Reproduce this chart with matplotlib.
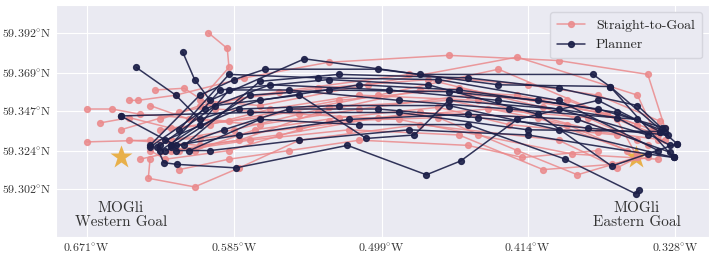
import matplotlib
matplotlib.use('Agg')
import matplotlib.pyplot as plt
import seaborn as sns

sns.set_style('darkgrid')
plt.rcParams['font.family'] = 'serif'
plt.rcParams['font.serif'] = ['cmr10', 'DejaVu Serif']
plt.rcParams['mathtext.fontset'] = 'cm'
plt.rcParams['axes.formatter.use_mathtext'] = True

# trajectories as (lon, lat) pairs
straight_tracks = [
    [(-0.671, 59.329), (-0.634, 59.330), (-0.605, 59.331), (-0.547, 59.337), (-0.477, 59.346), (-0.408, 59.343), (-0.350, 59.322)],
    [(-0.671, 59.348), (-0.656, 59.348), (-0.640, 59.345), (-0.588, 59.341), (-0.524, 59.353), (-0.454, 59.360), (-0.373, 59.346), (-0.338, 59.333)],
    [(-0.663, 59.340), (-0.646, 59.343), (-0.622, 59.337), (-0.570, 59.343), (-0.501, 59.356), (-0.431, 59.371), (-0.362, 59.342), (-0.350, 59.320)],
    [(-0.600, 59.392), (-0.589, 59.383), (-0.588, 59.372), (-0.605, 59.353), (-0.570, 59.350), (-0.507, 59.362), (-0.420, 59.378), (-0.350, 59.356), (-0.338, 59.330)],
    [(-0.646, 59.353), (-0.641, 59.353), (-0.619, 59.356), (-0.579, 59.366), (-0.530, 59.375), (-0.460, 59.379), (-0.396, 59.376), (-0.344, 59.368), (-0.334, 59.337)],
    [(-0.634, 59.319), (-0.635, 59.308), (-0.608, 59.303), (-0.582, 59.314), (-0.547, 59.330), (-0.477, 59.339), (-0.396, 59.330), (-0.362, 59.314), (-0.350, 59.320)],
    [(-0.634, 59.324), (-0.625, 59.319), (-0.588, 59.324), (-0.530, 59.341), (-0.466, 59.343), (-0.420, 59.324), (-0.385, 59.310), (-0.344, 59.322)],
    [(-0.628, 59.336), (-0.599, 59.339), (-0.564, 59.348), (-0.512, 59.356), (-0.443, 59.353), (-0.373, 59.335), (-0.334, 59.330)],
    [(-0.651, 59.336), (-0.617, 59.346), (-0.582, 59.354), (-0.536, 59.360), (-0.472, 59.365), (-0.405, 59.349), (-0.350, 59.330)],
    [(-0.631, 59.359), (-0.614, 59.360), (-0.596, 59.348), (-0.547, 59.345), (-0.489, 59.342), (-0.443, 59.333), (-0.388, 59.322), (-0.338, 59.319)],
    [(-0.622, 59.330), (-0.585, 59.336), (-0.530, 59.349), (-0.460, 59.353), (-0.391, 59.339), (-0.356, 59.324)],
    [(-0.640, 59.319), (-0.617, 59.324), (-0.576, 59.330), (-0.518, 59.336), (-0.454, 59.333), (-0.405, 59.313), (-0.365, 59.316), (-0.344, 59.320)],
    [(-0.628, 59.342), (-0.605, 59.350), (-0.559, 59.358), (-0.483, 59.368), (-0.414, 59.362), (-0.373, 59.356), (-0.337, 59.341)],
    [(-0.617, 59.313), (-0.588, 59.319), (-0.553, 59.324), (-0.512, 59.330), (-0.449, 59.327), (-0.417, 59.320), (-0.373, 59.324)],
    [(-0.608, 59.324), (-0.573, 59.336), (-0.524, 59.343), (-0.466, 59.349), (-0.425, 59.339), (-0.362, 59.333)],
    [(-0.634, 59.350), (-0.611, 59.342), (-0.570, 59.339), (-0.512, 59.348), (-0.449, 59.356), (-0.391, 59.353), (-0.350, 59.339)],
    [(-0.622, 59.324), (-0.582, 59.330), (-0.536, 59.346), (-0.477, 59.359), (-0.420, 59.356), (-0.368, 59.345), (-0.341, 59.336)],
    [(-0.646, 59.330), (-0.605, 59.327), (-0.559, 59.333), (-0.501, 59.343), (-0.437, 59.348), (-0.379, 59.343), (-0.344, 59.327)],
]

planner_tracks = [
    [(-0.642, 59.372), (-0.619, 59.356), (-0.605, 59.342), (-0.570, 59.353), (-0.512, 59.362), (-0.454, 59.359), (-0.373, 59.348), (-0.334, 59.337)],
    [(-0.615, 59.381), (-0.608, 59.365), (-0.599, 59.353), (-0.544, 59.377), (-0.477, 59.368), (-0.376, 59.368), (-0.366, 59.361), (-0.329, 59.320)],
    [(-0.651, 59.344), (-0.619, 59.327), (-0.582, 59.333), (-0.518, 59.342), (-0.449, 59.345), (-0.385, 59.342), (-0.331, 59.323)],
    [(-0.630, 59.326), (-0.626, 59.317), (-0.618, 59.316), (-0.584, 59.314), (-0.519, 59.327), (-0.473, 59.310), (-0.453, 59.318), (-0.420, 59.342), (-0.373, 59.353), (-0.337, 59.335)],
    [(-0.634, 59.327), (-0.605, 59.356), (-0.585, 59.365), (-0.567, 59.371), (-0.501, 59.371), (-0.431, 59.362), (-0.366, 59.361), (-0.327, 59.328)],
    [(-0.628, 59.327), (-0.596, 59.350), (-0.547, 59.356), (-0.508, 59.331), (-0.480, 59.333), (-0.460, 59.353), (-0.396, 59.348), (-0.344, 59.333)],
    [(-0.622, 59.327), (-0.593, 59.359), (-0.530, 59.365), (-0.472, 59.362), (-0.408, 59.345), (-0.365, 59.315), (-0.327, 59.328)],
    [(-0.625, 59.330), (-0.582, 59.348), (-0.524, 59.350), (-0.460, 59.350), (-0.396, 59.336), (-0.329, 59.320)],
    [(-0.617, 59.336), (-0.588, 59.368), (-0.536, 59.366), (-0.466, 59.365), (-0.396, 59.353), (-0.338, 59.324)],
    [(-0.611, 59.324), (-0.570, 59.342), (-0.512, 59.339), (-0.449, 59.339), (-0.392, 59.319), (-0.351, 59.299), (-0.349, 59.301)],
    [(-0.634, 59.326), (-0.602, 59.348), (-0.564, 59.362), (-0.495, 59.359), (-0.431, 59.353), (-0.362, 59.343), (-0.331, 59.327)],
    [(-0.619, 59.324), (-0.599, 59.324), (-0.547, 59.330), (-0.483, 59.336), (-0.414, 59.333), (-0.344, 59.322), (-0.329, 59.320)],
    [(-0.628, 59.324), (-0.605, 59.339), (-0.588, 59.359), (-0.553, 59.359), (-0.489, 59.353), (-0.425, 59.348), (-0.350, 59.342)],
    [(-0.651, 59.344), (-0.576, 59.346), (-0.489, 59.346), (-0.414, 59.336), (-0.337, 59.335)],
    [(-0.622, 59.326), (-0.576, 59.356), (-0.530, 59.359), (-0.460, 59.358), (-0.408, 59.353), (-0.362, 59.346), (-0.334, 59.335)],
    [(-0.625, 59.324), (-0.591, 59.336), (-0.553, 59.348), (-0.501, 59.348), (-0.443, 59.343), (-0.379, 59.337), (-0.332, 59.333)],
    [(-0.614, 59.327), (-0.570, 59.364), (-0.524, 59.368), (-0.449, 59.366), (-0.396, 59.360), (-0.350, 59.350), (-0.336, 59.337)],
]

west_goal = (-0.651, 59.320)
east_goal = (-0.351, 59.3205)

x_ticks = [-0.671, -0.585, -0.499, -0.414, -0.328]
y_ticks = [59.302, 59.324, 59.347, 59.369, 59.392]

pink = '#ea8a8c'
navy = '#1c1f48'

fig = plt.figure(figsize=(7.13, 2.58), dpi=100)
ax = fig.add_axes([0.078, 0.081, 0.916, 0.899])

for i, tr in enumerate(straight_tracks):
    lon, lat = zip(*tr)
    ax.plot(lon, lat, '-o', color=pink, lw=1.1, ms=4.2, alpha=0.85,
            zorder=2, label='Straight-to-Goal' if i == 0 else None)
for i, tr in enumerate(planner_tracks):
    lon, lat = zip(*tr)
    ax.plot(lon, lat, '-o', color=navy, lw=1.1, ms=4.2, alpha=0.9,
            zorder=3, label='Planner' if i == 0 else None)

ax.plot(*west_goal, marker='*', ms=17, color='#e8b04a', mec='none', zorder=1.5)
ax.plot(*east_goal, marker='*', ms=17, color='#e8b04a', mec='none', zorder=1.5)

ax.text(west_goal[0], 59.2865, 'MOGli\nWestern Goal', ha='center', va='center',
        fontsize=11, color='#333333', linespacing=1.05)
ax.text(east_goal[0] + 0.0007, 59.2865, 'MOGli\nEastern Goal', ha='center', va='center',
        fontsize=11, color='#333333', linespacing=1.05)

ax.set_xlim(-0.689, -0.3085)
ax.set_ylim(59.274, 59.408)
ax.set_xticks(x_ticks, [f'${abs(v):.3f}^{{\\circ}}\\mathrm{{W}}$' for v in x_ticks])
ax.set_yticks(y_ticks, [f'${v:.3f}^{{\\circ}}\\mathrm{{N}}$' for v in y_ticks])
ax.tick_params(length=0, pad=3, labelsize=8.6, labelcolor='#333333')

leg = ax.legend(loc='upper right', fontsize=10, frameon=True, facecolor='#eaeaf2',
                edgecolor='#d5d5dd', framealpha=1, borderpad=0.5)

fig.savefig('out.png', dpi=100)
